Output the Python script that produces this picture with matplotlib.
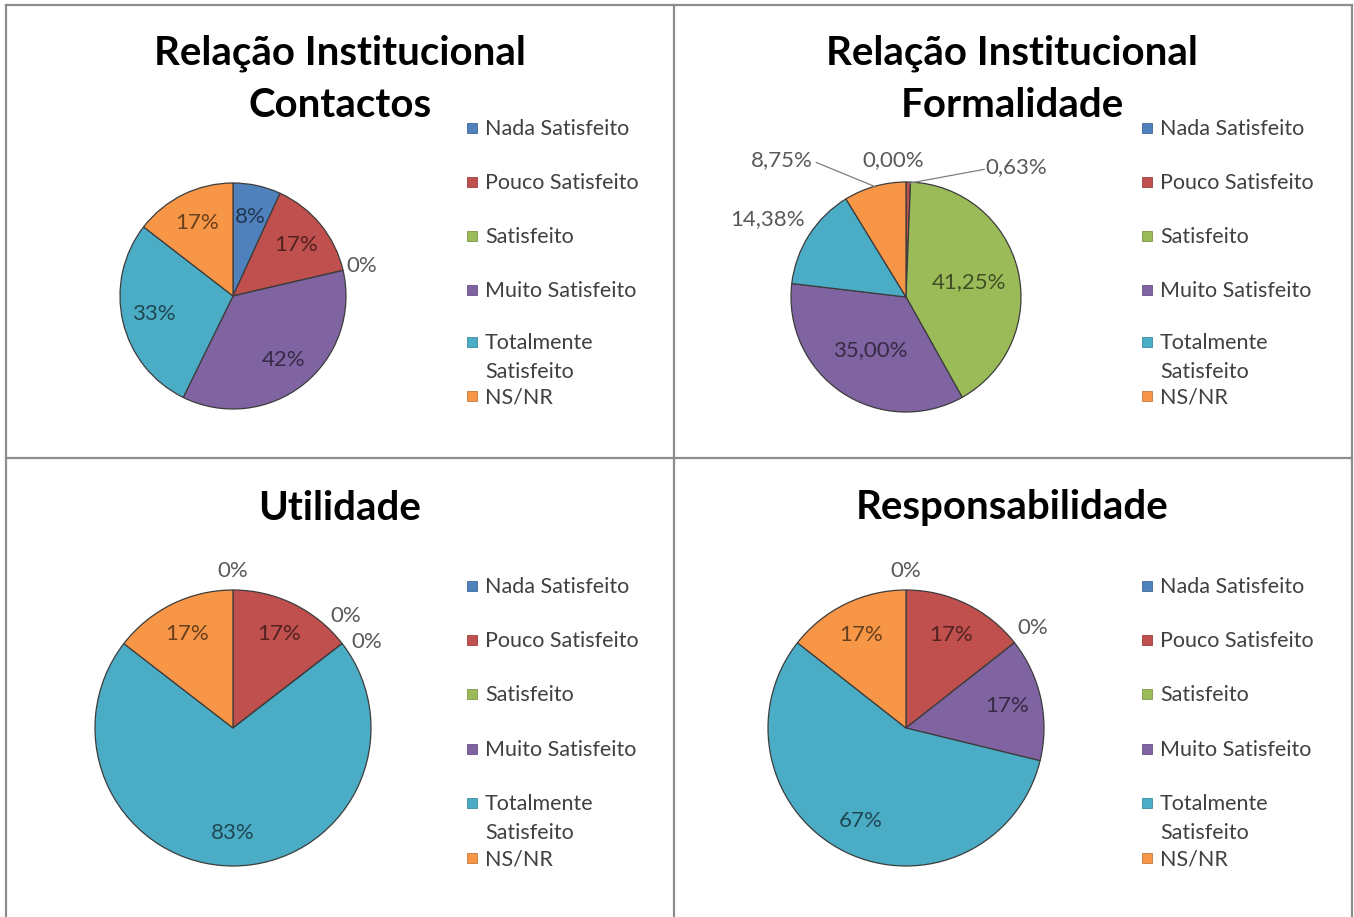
import matplotlib
matplotlib.use("Agg")
import matplotlib.pyplot as plt
import numpy as np
from matplotlib.lines import Line2D
from matplotlib.patches import Rectangle
import matplotlib.colors as mcolors

plt.rcParams['font.family'] = ['Lato', 'DejaVu Sans']

# ---------------- data ----------------
categories = ['Nada Satisfeito', 'Pouco Satisfeito', 'Satisfeito',
              'Muito Satisfeito', 'Totalmente\nSatisfeito', 'NS/NR']
colors = ['#4F81BD', '#C0504D', '#9BBB59', '#8064A2', '#4BACC6', '#F79646']

titles = ['Relação Institucional\nContactos', 'Relação Institucional\nFormalidade',
          'Utilidade', 'Responsabilidade']
contactos = [8, 17, 0, 42, 33, 17]
formalidade = [0.00, 0.63, 41.25, 35.00, 14.38, 8.75]
utilidade = [0, 17, 0, 0, 83, 17]
responsabilidade = [0, 17, 0, 17, 67, 17]

W, H = 1354, 917
fig = plt.figure(figsize=(W / 100, H / 100), dpi=100)
fig.patch.set_facecolor('white')

LABEL_FS = 16


def fx(x):
    return x / W


def fy(y):
    return 1 - y / H


def dark(c, f=0.5):
    r, g, b = mcolors.to_rgb(c)
    return (r * f, g * f, b * f)


# ---------------- panel borders ----------------
bc = '#8c8c8c'
for (x0, y0, x1, y1) in [(6, 5, 1352, 5), (6, 5, 6, 917), (1352, 5, 1352, 917),
                         (674, 5, 674, 917), (6, 458, 1352, 458)]:
    fig.add_artist(Line2D([fx(x0), fx(x1)], [fy(y0), fy(y1)], color=bc, lw=1.6,
                          transform=fig.transFigure))


def fmt_int(v):
    return f'{v:.0f}%'


def fmt_dec(v):
    return f'{v:.2f}%'.replace('.', ',')


def draw_pie(values, cx, cy, r, fmt, inner_r, outside):
    ax = fig.add_axes([fx(cx - r), fy(cy + r), 2 * r / W, 2 * r / H])
    wedges, _ = ax.pie(values, colors=colors, startangle=90, counterclock=False,
                       radius=1, wedgeprops=dict(edgecolor='#3c3c3c', linewidth=0.9))
    ax.set_xlim(-1, 1)
    ax.set_ylim(-1, 1)
    ax.set_aspect('equal')
    ax.axis('off')
    for i, (w, v) in enumerate(zip(wedges, values)):
        mid = np.deg2rad((w.theta1 + w.theta2) / 2)
        txt = fmt(v)
        if i in outside:
            o = outside[i]
            if 'xy' in o:
                tx, ty = o['xy']
            else:
                a = mid + np.deg2rad(o.get('da', 0))
                rr = o.get('r', 1.14)
                tx, ty = rr * np.cos(a), rr * np.sin(a)
            ax.text(tx, ty, txt, ha=o.get('ha', 'center'), va='center', fontsize=LABEL_FS,
                    color='#595959', clip_on=False)
            if 'line' in o:
                ax.plot(*zip(*o['line']), color='#7f7f7f', lw=0.9, clip_on=False)
        else:
            ax.text(inner_r * np.cos(mid), inner_r * np.sin(mid), txt, ha='center',
                    va='center', fontsize=LABEL_FS, color=dark(colors[i], 0.42))
    return ax


def draw_title(text, x, y):
    fig.text(fx(x), fy(y), text, ha='center', va='center', fontsize=29,
             fontweight='bold', color='black', linespacing=1.5)


def draw_legend(x, ys):
    for i, (cat, y) in enumerate(zip(categories, ys)):
        fig.add_artist(Rectangle((fx(x - 5), fy(y + 5)), 10 / W, 10 / H,
                                 facecolor=colors[i], edgecolor=dark(colors[i], 0.8),
                                 lw=0.6, transform=fig.transFigure))
        for k, line in enumerate(cat.split('\n')):
            fig.text(fx(x + 13), fy(y + 1 + 29 * k), line, ha='left', va='center',
                     fontsize=15.5, color='#404040')


# Panel 1
draw_title(titles[0], 340, 79)
draw_pie(contactos, 233, 296, 113, fmt_int, 0.72, {2: dict(r=1.17)})
draw_legend(472, [128, 182, 236, 290, 342, 396])

# Panel 2
draw_title(titles[1], 1012, 79)
draw_pie(formalidade, 906, 297, 115, fmt_dec, 0.56,
         {0: dict(xy=(-0.11, 1.19)),
          1: dict(xy=(0.69, 1.13), ha='left', line=[(0.68, 1.11), (0.03, 0.99)]),
          5: dict(xy=(-0.81, 1.19), ha='right', line=[(-0.78, 1.17), (-0.27, 0.96)]),
          4: dict(xy=(-0.88, 0.68), ha='right')})
draw_legend(1147, [128, 182, 236, 290, 342, 396])

# Panel 3
draw_title(titles[2], 340, 508)
draw_pie(utilidade, 233, 728, 138, fmt_int, 0.76,
         {0: dict(r=1.14), 2: dict(r=1.15, da=7), 3: dict(r=1.15, da=-5)})
draw_legend(472, [586, 640, 694, 749, 803, 858])

# Panel 4
draw_title(titles[3], 1012, 508)
draw_pie(responsabilidade, 906, 728, 138, fmt_int, 0.75,
         {0: dict(r=1.14), 2: dict(r=1.17)})
draw_legend(1147, [586, 640, 694, 749, 803, 858])

fig.savefig('out.png', dpi=100, facecolor='white')
